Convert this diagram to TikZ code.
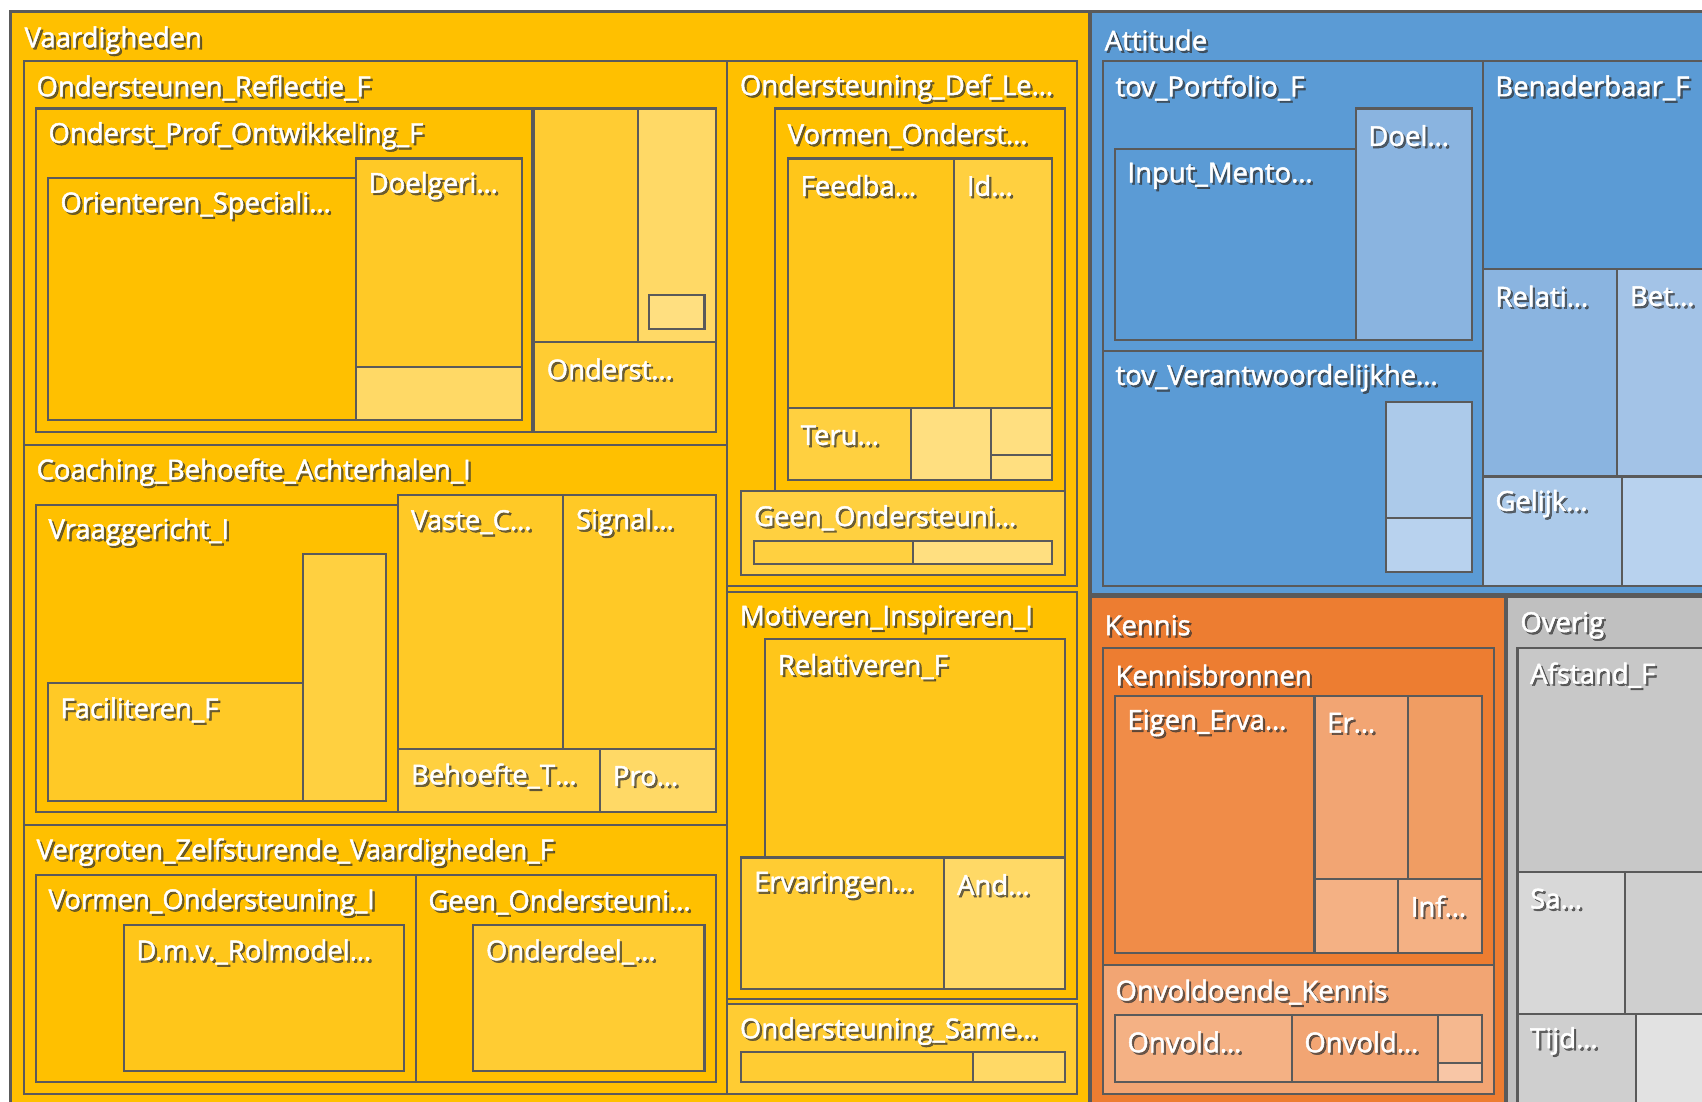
\documentclass[tikz,border=0pt]{standalone}
\usepackage{fontspec}
\newfontfamily\lblfont{Open Sans}[FakeBold=1.6]
\definecolor{frame}{HTML}{5A5A5A}
\definecolor{gA}{HTML}{FFC000}
\definecolor{gB}{HTML}{FFC61A}
\definecolor{gC}{HTML}{FFC926}
\definecolor{gD}{HTML}{FFCC33}
\definecolor{gE}{HTML}{FFD040}
\definecolor{gF}{HTML}{FFD966}
\definecolor{gG}{HTML}{FFDF80}
\definecolor{bA}{HTML}{5B9BD5}
\definecolor{bB}{HTML}{8AB4E0}
\definecolor{bC}{HTML}{A3C3E7}
\definecolor{bD}{HTML}{ACCAEA}
\definecolor{bE}{HTML}{B8D2EE}
\definecolor{oA}{HTML}{ED7D31}
\definecolor{oB}{HTML}{F08C48}
\definecolor{oC}{HTML}{F2A573}
\definecolor{oD}{HTML}{F09D63}
\definecolor{oE}{HTML}{F4B184}
\definecolor{oF}{HTML}{F5B88F}
\definecolor{oG}{HTML}{F8C6A6}
\definecolor{sA}{HTML}{C0C0C0}
\definecolor{sB}{HTML}{C8C8C8}
\definecolor{sC}{HTML}{D8D8D8}
\definecolor{sD}{HTML}{CFCFCF}
\definecolor{sE}{HTML}{E2E2E2}

\begin{document}
\begin{tikzpicture}[x=0.01cm,y=-0.01cm,
  cell/.style={draw=frame,line width=0.55pt},
  lbl/.style={anchor=west,inner sep=0pt,text=white,font=\lblfont\fontsize{7.2}{8}\selectfont},
  lblshade/.style={lbl,text=black!80,text opacity=0.7}]
\useasboundingbox (0,0) rectangle (1568,1015);
\fill[white] (0,0) rectangle (1568,1015);
\clip (0,0) rectangle (1568,1015);
\fill[frame] (8,9) rectangle (1575,1020);
\foreach \xa/\ya/\xb/\yb/\c in {11/12/1002/1020/gA, 1006/12/1575/546/bA,
  1006/551/1386/1020/oA, 1389/551/1575/1020/sA}
  \fill[\c] (\xa,\ya) rectangle (\xb,\yb);
\foreach \xa/\ya/\xb/\yb/\c in {
  22/56/670/410/gA, 33/100/490/398/gA, 44/164/328/387/gA, 328/146/481/338/gC, 328/338/481/387/gF,
  492/100/588/315/gD, 588/100/660/315/gF, 598/272/649/303/gG, 492/315/660/398/gD,
  22/410/670/760/gA, 33/465/367/748/gA, 279/510/356/738/gE, 44/629/279/738/gC,
  367/456/519/690/gC, 519/456/660/690/gC, 367/690/553/748/gE, 553/690/660/748/gF,
  22/760/670/1008/gA, 33/806/383/997/gA, 114/852/372/987/gB, 383/806/660/997/gA, 436/852/649/987/gD,
  670/56/992/540/gA, 714/100/981/452/gA, 726/146/879/376/gB, 879/146/969/376/gE,
  726/376/839/442/gE, 839/376/913/442/gG, 913/376/969/419/gG, 913/419/969/442/gG,
  683/452/981/530/gE, 695/498/841/520/gE, 841/498/969/520/gG,
  670/545/992/920/gA, 705/589/981/790/gB, 683/790/870/911/gD, 870/790/981/911/gF,
  670/925/992/1008/gD, 683/969/896/997/gD, 896/969/981/997/gF,
  1016/56/1366/323/bA, 1027/137/1249/313/bA, 1249/100/1356/313/bB,
  1016/323/1366/540/bA, 1277/370/1356/477/bD, 1277/477/1356/527/bE,
  1366/56/1580/248/bA, 1366/248/1490/439/bB, 1490/248/1580/439/bC,
  1366/439/1494/540/bD, 1494/439/1580/540/bE,
  1016/597/1376/889/oA, 1027/641/1211/878/oB, 1211/641/1297/810/oC, 1297/641/1365/810/oD,
  1211/810/1288/878/oE, 1288/810/1365/878/oE,
  1016/889/1376/1008/oC, 1027/935/1190/997/oE, 1190/935/1325/997/oC,
  1325/935/1365/979/oF, 1325/979/1365/997/oG,
  1398/597/1580/803/sB, 1398/803/1497/934/sC, 1497/803/1580/934/sD,
  1398/934/1507/1020/sD, 1507/934/1580/1020/sE}
  \draw[cell,fill=\c] (\xa,\ya) rectangle (\xb,\yb);
\foreach \xa/\ya/\t [count=\i] in {
  11/12/Vaardigheden, 1006/12/Attitude, 1006/551/Kennis, 1389/551/Overig,
  22/56/Ondersteunen\_Reflectie\_F, 33/100/Onderst\_Prof\_Ontwikkeling\_F,
  44/164/Orienteren\_Speciali…, 328/146/Doelgeri…, 492/315/Onderst…,
  22/410/Coaching\_Behoefte\_Achterhalen\_I, 33/465/Vraaggericht\_I, 44/629/Faciliteren\_F,
  367/456/Vaste\_C…, 519/456/Signal…, 367/690/Behoefte\_T…, 553/690/Pro…,
  22/760/Vergroten\_Zelfsturende\_Vaardigheden\_F, 33/806/Vormen\_Ondersteuning\_I,
  114/852/D.m.v.\_Rolmodel…, 383/806/Geen\_Ondersteuni…, 436/852/Onderdeel\_…,
  670/56/Ondersteuning\_Def\_Le…, 714/100/Vormen\_Onderst…, 726/146/Feedba…,
  879/146/Id…, 726/376/Teru…, 683/452/Geen\_Ondersteuni…,
  670/545/Motiveren\_Inspireren\_I, 705/589/Relativeren\_F, 683/790/Ervaringen…,
  870/790/And…, 670/925/Ondersteuning\_Same…,
  1016/56/tov\_Portfolio\_F, 1027/137/Input\_Mento…, 1249/100/Doel…,
  1016/323/tov\_Verantwoordelijkhe…, 1366/56/Benaderbaar\_F, 1366/248/Relati…,
  1490/248/Bet…, 1366/439/Gelijk…,
  1016/597/Kennisbronnen, 1027/641/Eigen\_Erva…, 1211/641/Er…, 1288/810/Inf…,
  1016/889/Onvoldoende\_Kennis, 1027/935/Onvold…, 1190/935/Onvold…,
  1398/597/Afstand\_F, 1398/803/Sa…, 1398/934/Tijd…}
{
  \node[lblshade] (s\i) at (\xa+13,\ya+27) {\t};
  \node[lbl] (t\i) at (\xa+11,\ya+25) {\t};
}
\end{tikzpicture}
\end{document}
